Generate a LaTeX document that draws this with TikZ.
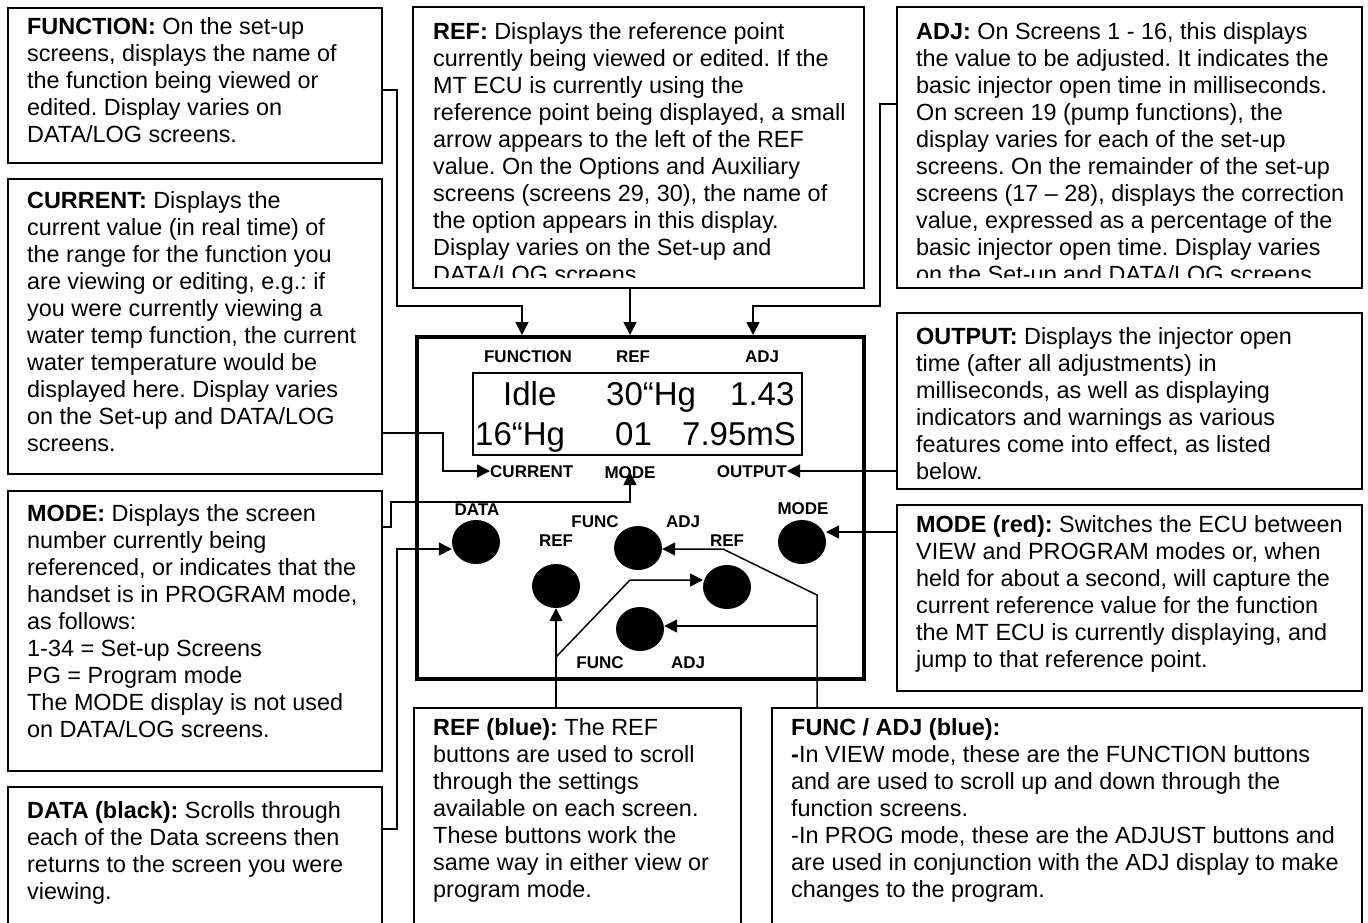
\documentclass[tikz,border=0pt]{standalone}
\usepackage{fontspec}
\setmainfont{Liberation Sans}
\usetikzlibrary{arrows.meta,shapes.geometric}
\frenchspacing
\newcommand{\dtext}[1]{\begin{minipage}[t]{560pt}\raggedright\frenchspacing\fontsize{23.4}{27}\selectfont #1\end{minipage}}
\begin{document}
\begin{tikzpicture}[x=1pt,y=-1pt,
  box/.style={draw, line width=1.6pt, anchor=north west, inner sep=0pt},
  con/.style={line width=1.5pt},
  arr/.style={con, -{Triangle[length=13pt,width=13pt]}},
  desc/.style={anchor=base west, inner sep=0pt},
  lab/.style={font=\fontsize{17}{17}\selectfont\bfseries, inner sep=0pt, text height=12.2pt, text depth=0pt},
  disp/.style={font=\fontsize{33}{33}\selectfont, inner sep=0pt, anchor=base west},
  btn/.style={ellipse, fill=black, minimum width=48pt, minimum height=44pt, inner sep=0pt}
]
\fill[white] (0,0) rectangle (1368,922);
\useasboundingbox (0,0) rectangle (1368,922);

% ---------- description boxes ----------
\node[box, minimum width=374pt, minimum height=155pt] (fbox) at (7,7) {};
\node[box, minimum width=374pt, minimum height=295pt] (cbox) at (7,178) {};
\node[box, minimum width=374pt, minimum height=280pt] (mbox) at (7,490) {};
\node[box, minimum width=374pt, minimum height=160pt] (dbox) at (7,786) {};
\node[box, minimum width=451pt, minimum height=281pt] (rbox) at (412,6) {};
\node[box, minimum width=465pt, minimum height=281pt] (abox) at (896,6) {};
\node[box, minimum width=465pt, minimum height=176pt] (obox) at (896,312) {};
\node[box, minimum width=465pt, minimum height=186pt] (mrbox) at (896,504) {};
\node[box, minimum width=327pt, minimum height=240pt] (rbbox) at (413,707) {};
\node[box, minimum width=590pt, minimum height=240pt] (fabox) at (771,707) {};

\node[desc] (ft) at (27,34) {\dtext{\textbf{FUNCTION:} On the set-up\\
screens, displays the name of\\
the function being viewed or\\
edited. Display varies on\\
DATA/LOG screens.}};

\node[desc] (ct) at (27,208) {\dtext{\textbf{CURRENT:} Displays the\\
current value (in real time) of\\
the range for the function you\\
are viewing or editing, e.g.: if\\
you were currently viewing a\\
water temp function, the current\\
water temperature would be\\
displayed here. Display varies\\
on the Set-up and DATA/LOG\\
screens.}};

\node[desc] (mt) at (27,521) {\dtext{\textbf{MODE:} Displays the screen\\
number currently being\\
referenced, or indicates that the\\
handset is in PROGRAM mode,\\
as follows:\\
1-34 = Set-up Screens\\
PG = Program mode\\
The MODE display is not used\\
on DATA/LOG screens.}};

\node[desc] (dt) at (27,818) {\dtext{\textbf{DATA (black):} Scrolls through\\
each of the Data screens then\\
returns to the screen you were\\
viewing.}};

\begin{scope}
\clip (412,6) rectangle (863,277);
\node[desc] (rt) at (433,39.5) {\dtext{\textbf{REF:} Displays the reference point\\
currently being viewed or edited. If the\\
MT ECU is currently using the\\
reference point being displayed, a small\\
arrow appears to the left of the REF\\
value. On the Options and Auxiliary\\
screens (screens 29, 30), the name of\\
the option appears in this display.\\
Display varies on the Set-up and\\
DATA/LOG screens.}};
\end{scope}

\begin{scope}
\clip (896,6) rectangle (1361,277);
\node[desc] (at) at (916,39.5) {\dtext{\textbf{ADJ:} On Screens 1 - 16, this displays\\
the value to be adjusted. It indicates the\\
basic injector open time in milliseconds.\\
On screen 19 (pump functions), the\\
display varies for each of the set-up\\
screens. On the remainder of the set-up\\
screens (17 – 28), displays the correction\\
value, expressed as a percentage of the\\
basic injector open time. Display varies\\
on the Set-up and DATA/LOG screens.}};
\end{scope}

\node[desc] (ot) at (916,344) {\dtext{\textbf{OUTPUT:} Displays the injector open\\
time (after all adjustments) in\\
milliseconds, as well as displaying\\
indicators and warnings as various\\
features come into effect, as listed\\
below.}};

\node[desc] (mrt) at (916,532) {\dtext{\textbf{MODE (red):} Switches the ECU between\\
VIEW and PROGRAM modes or, when\\
held for about a second, will capture the\\
current reference value for the function\\
the MT ECU is currently displaying, and\\
jump to that reference point.}};

\node[desc] (rbt) at (433,735) {\dtext{\textbf{REF (blue):} The REF\\
buttons are used to scroll\\
through the settings\\
available on each screen.\\
These buttons work the\\
same way in either view or\\
program mode.}};

\node[desc] (fat) at (791,735) {\dtext{\textbf{FUNC / ADJ (blue):}\\
\textbf{-}In VIEW mode, these are the FUNCTION buttons\\
and are used to scroll up and down through the\\
function screens.\\
-In PROG mode, these are the ADJUST buttons and\\
are used in conjunction with the ADJ display to make\\
changes to the program.}};

% ---------- handset ----------
\node[draw, line width=3.5pt, anchor=north west, minimum width=447pt, minimum height=342pt, inner sep=0pt] (dev) at (415,335) {};
\node[draw, line width=2.2pt, anchor=north west, minimum width=329pt, minimum height=82pt, inner sep=0pt] (scr) at (472,372) {};

\node[lab] (lfun) at (528,356) {FUNCTION};
\node[lab] (lref) at (633,356) {REF};
\node[lab] (ladj) at (762,356) {ADJ};

\node[disp] (d1) at (503,405) {Idle};
\node[disp] (d2) at (606,405) {30“Hg};
\node[disp] (d3) at (730,405) {1.43};
\node[disp] (d4) at (475,445) {16“Hg};
\node[disp] (d5) at (615,445) {01};
\node[disp] (d6) at (682,445) {7.95mS};

\node[lab, anchor=west] (lcur) at (490,471) {CURRENT};
\node[lab] (lmode) at (630,472) {MODE};
\node[lab, anchor=east] (lout) at (787,471) {OUTPUT};

\node[btn] (bdata) at (476,542) {};
\node[btn] (bref1) at (556,586) {};
\node[btn] (bfun1) at (638,548) {};
\node[btn] (bref2) at (727,587) {};
\node[btn] (bfun2) at (640,629) {};
\node[btn] (bmode) at (802,542) {};

\node[lab] (tdata) at (477,509) {DATA};
\node[lab] (tfun1) at (595,521) {FUNC};
\node[lab] (tadj1) at (683,521) {ADJ};
\node[lab] (tref1) at (556,540) {REF};
\node[lab] (tref2) at (727,540) {REF};
\node[lab] (tfun2) at (600,662) {FUNC};
\node[lab] (tadj2) at (688,662) {ADJ};
\node[lab] (tmode) at (803,508) {MODE};

% ---------- connectors ----------
\draw[arr] ([yshift=-83pt]fbox.north east) -| (397,306) -| (dev.north -| 522,0);
\draw[arr] (rbox.south -| 630,0) -- (dev.north -| 630,0);
\draw[arr] ([yshift=-98pt]abox.north west) -| (880,306) -| (dev.north -| 753,0);
\draw[arr] ([yshift=-255pt]cbox.north east) -| (lcur.west -| 443,0) -- (lcur.west);
\draw[arr] ([yshift=-37pt]mbox.north east) -| (391,502) -| (lmode.center);
\draw[arr] (obox.west |- lout.east) -- (lout.east);
\draw[arr] ([yshift=-43pt]dbox.north east) -| (397,549) -- (bdata.west |- 0,549);
\draw[arr] (mrbox.west |- 0,532) -- (826,532);
\draw[arr] (rbbox.north -| bref1.south) -- (bref1.south);
\draw[arr] (556,657) -- (630,580) -- (703,580);
\draw[arr] (fabox.north -| 817,0) -- (817,595) -- (723,549) -- (bfun1.east |- 0,549);
\draw[arr] (817,626) -- (bfun2.east |- 0,626);
\end{tikzpicture}
\end{document}
